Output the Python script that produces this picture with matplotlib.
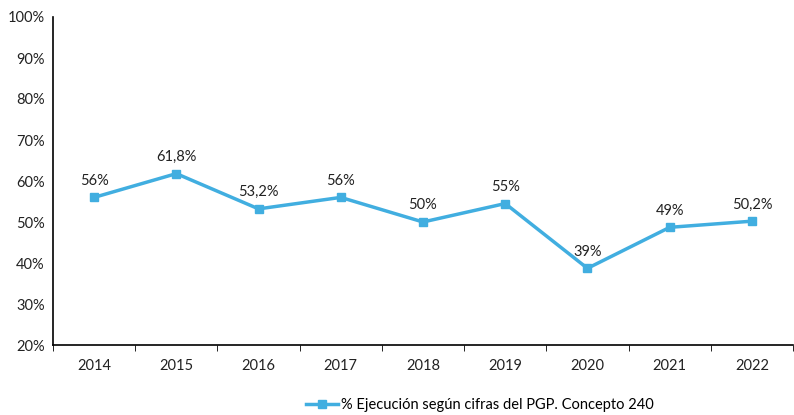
import matplotlib.pyplot as plt
import numpy as np

plt.rcParams['font.family'] = ['Lato', 'DejaVu Sans']

years = ['2014', '2015', '2016', '2017', '2018', '2019', '2020', '2021', '2022']
ejecucion = [56.0, 61.8, 53.2, 56.0, 50.0, 54.5, 38.7, 48.7, 50.2]
etiquetas = ['56%', '61,8%', '53,2%', '56%', '50%', '55%', '39%', '49%', '50,2%']

color = '#41AEE0'
x = np.arange(len(years))

fig = plt.figure(figsize=(7.94, 4.15), dpi=100)
ax = fig.add_axes([53 / 794, 1 - 345 / 415, (793 - 53) / 794, (345 - 17) / 415])

ax.plot(x, ejecucion, color=color, lw=2.5, marker='s', markersize=6,
        label='% Ejecución según cifras del PGP. Concepto 240')
for xi, yi, t in zip(x, ejecucion, etiquetas):
    ax.annotate(t, (xi, yi), xytext=(0, 7), textcoords='offset points',
                ha='center', va='bottom', fontsize=10.5, color='#222222')

ax.set_xlim(-0.5, len(years) - 0.5)
ax.set_ylim(20, 100)
ax.set_yticks(range(20, 101, 10))
ax.set_yticklabels([f'{v}%' for v in range(20, 101, 10)])
ax.set_xticks(x)
ax.set_xticklabels(years)
ax.set_xticks(np.arange(-0.5, len(years), 1), minor=True)
ax.tick_params(axis='x', which='major', length=0, pad=10, labelsize=10.5, labelcolor='#222222')
ax.tick_params(axis='x', which='minor', length=4, direction='out')
ax.tick_params(axis='y', length=0, pad=6, labelsize=10.5, labelcolor='#222222')
for s in ['top', 'right']:
    ax.spines[s].set_visible(False)
ax.spines['left'].set_linewidth(1.2)
ax.spines['bottom'].set_linewidth(1.2)

fig.legend(loc='center', bbox_to_anchor=(480 / 794, 1 - 405 / 415), frameon=False,
           fontsize=10.5, handlelength=2.2, handletextpad=0.2)

fig.savefig('out.png', dpi=100)
